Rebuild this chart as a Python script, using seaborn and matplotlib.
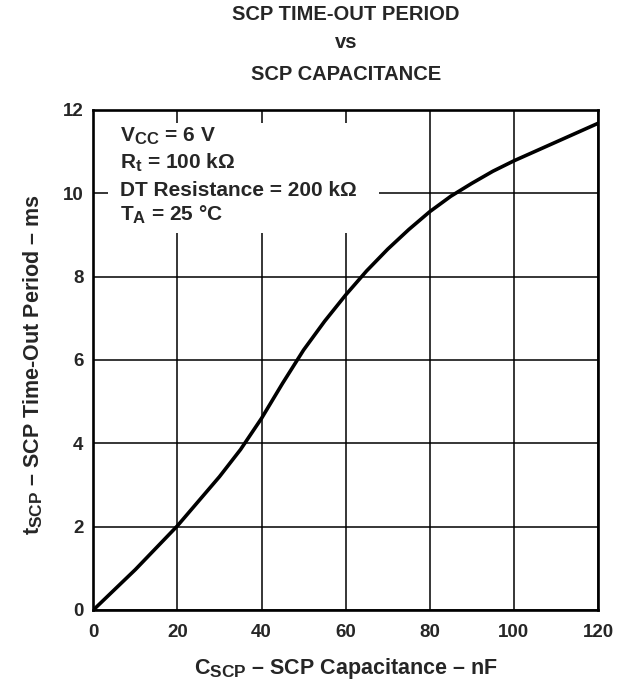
import matplotlib
matplotlib.use("Agg")
import matplotlib.pyplot as plt
import matplotlib._mathtext as _mt
from matplotlib.patches import Rectangle
import seaborn as sns
import pandas as pd

capacitance_nF = [0, 10, 20, 30, 35, 40, 45, 50, 55, 60, 65, 70, 75, 80, 85, 90, 95, 100, 110, 120]
timeout_ms = [0, 0.97, 2.02, 3.2, 3.85, 4.6, 5.44, 6.24, 6.93, 7.56, 8.14, 8.66, 9.13, 9.56, 9.93, 10.24, 10.53, 10.78, 11.23, 11.68]
x_ticks = [0, 20, 40, 60, 80, 100, 120]
y_ticks = [0, 2, 4, 6, 8, 10, 12]
title_lines = ["SCP TIME-OUT PERIOD", "vs", "SCP CAPACITANCE"]
conditions = ["V$_{CC}$ = 6 V", "R$_{t}$ = 100 kΩ", "DT Resistance = 200 kΩ", "T$_{A}$ = 25 °C"]

sns.set_style("white")
plt.rcParams['font.family'] = ['Liberation Sans', 'DejaVu Sans']
plt.rcParams['font.weight'] = 'bold'
plt.rcParams['mathtext.fontset'] = 'custom'
plt.rcParams['mathtext.rm'] = 'Liberation Sans:bold'
plt.rcParams['mathtext.bf'] = 'Liberation Sans:bold'
plt.rcParams['mathtext.it'] = 'Liberation Sans:bold'
plt.rcParams['mathtext.default'] = 'bf'
try:
    _mt.SHRINK_FACTOR = 0.8
except Exception:
    pass

df = pd.DataFrame({"C": capacitance_nF, "t": timeout_ms})

fig = plt.figure(figsize=(6.28, 6.83), dpi=100)
ax = fig.add_axes([93.3/628, 73/683, (598-93.3)/628, 500/683])

sns.lineplot(data=df, x="C", y="t", ax=ax, color="black", linewidth=2.6, zorder=5)

ax.set_xlim(0, 120)
ax.set_ylim(0, 12)
ax.set_xticks(x_ticks)
ax.set_yticks(y_ticks)
ax.set_xticklabels([str(v) for v in x_ticks], fontsize=13.5, fontweight='bold')
ax.set_yticklabels([str(v) for v in y_ticks], fontsize=13.5, fontweight='bold')
ax.tick_params(axis='x', length=0, pad=10)
ax.tick_params(axis='y', length=0, pad=7)
ax.grid(True, color='black', linewidth=1.1)
for s in ax.spines.values():
    s.set_color('black')
    s.set_linewidth(1.9)
    s.set_zorder(6)

ax.set_xlabel("C$_{SCP}$ – SCP Capacitance – nF", fontsize=15.5, fontweight='bold')
ax.set_ylabel("t$_{SCP}$ – SCP Time-Out Period – ms", fontsize=15.5, fontweight='bold')
ax.xaxis.set_label_coords(0.5, (610 - 656) / 500)
ax.yaxis.set_label_coords((45 - 93.3) / 504.7, (610 - 364.5) / 500)

for ypx, line in zip([14, 43, 74], title_lines):
    fig.text(345.7/628, 1-ypx/683, line, ha='center', va='center', fontsize=14.5, fontweight='bold')

# white area behind the operating conditions
ax.add_patch(Rectangle((3.56, 9.05), 64.3, 2.64, facecolor='white', edgecolor='none', zorder=2))
for yb, line in zip([11.24, 10.58, 9.94, 9.34], conditions):
    ax.text(6.36, yb, line, ha='left', va='baseline', fontsize=15, fontweight='bold', zorder=4)

fig.savefig("out.png", dpi=100)
